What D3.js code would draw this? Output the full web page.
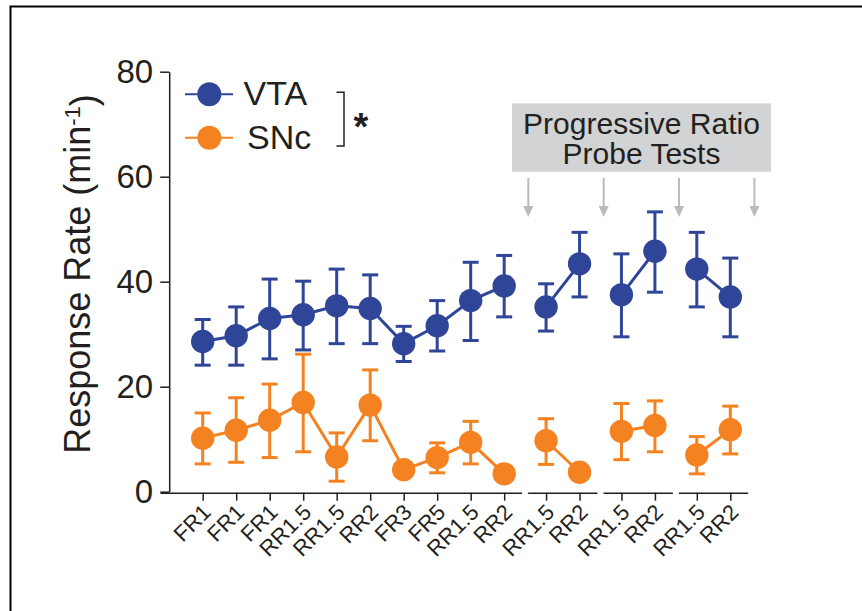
<!DOCTYPE html>
<html>
<head>
<meta charset="utf-8">
<script src="https://cdn.jsdelivr.net/npm/d3@7"></script>
<style>
  body { margin: 0; background: #fff; }
  svg { display: block; font-family: "Liberation Sans", Arial, Helvetica, sans-serif; }
</style>
</head>
<body>
<div id="chart"></div>
<script>
// session labels and which test block each belongs to
const sessions = ['FR1', 'FR1', 'FR1', 'RR1.5', 'RR1.5', 'RR2', 'FR3', 'FR5', 'RR1.5', 'RR2',
  'RR1.5', 'RR2', 'RR1.5', 'RR2', 'RR1.5', 'RR2'];
const block = [0, 0, 0, 0, 0, 0, 0, 0, 0, 0, 1, 1, 2, 2, 3, 3];

// response rate (min^-1), mean with upper / lower error bar ends
const vtaMean = [28.6, 29.7, 33.0, 33.7, 35.4, 34.9, 28.2, 31.6, 36.4, 39.2, 35.2, 43.4, 37.5, 45.8, 42.4, 37.1];
const vtaHigh = [32.8, 35.2, 40.5, 40.1, 42.4, 41.3, 31.5, 36.4, 43.7, 45.0, 39.6, 49.4, 45.3, 53.3, 49.4, 44.5];
const vtaLow = [24.1, 24.1, 25.3, 27.0, 28.2, 28.2, 24.8, 26.8, 28.8, 33.3, 30.6, 37.1, 29.5, 38.0, 35.2, 29.5];

const sncMean = [10.2, 11.7, 13.6, 17.0, 6.6, 16.5, 4.2, 6.5, 9.4, 3.4, 9.7, 3.7, 11.5, 12.6, 7.0, 11.8];
const sncHigh = [15.0, 17.9, 20.5, 26.2, 11.2, 23.2, 5.0, 9.3, 13.4, 4.2, 13.9, 4.5, 16.8, 17.3, 10.5, 16.3];
const sncLow = [5.3, 5.6, 6.5, 7.6, 2.0, 9.7, 3.4, 3.6, 5.3, 2.6, 5.2, 2.9, 6.1, 7.6, 3.4, 7.2];

const yTicks = [0, 20, 40, 60, 80];

const blue = '#2e4598';
const orange = '#f58220';
const ink = '#231f20';

const width = 862, height = 611;
const svg = d3.select('#chart').append('svg')
  .attr('width', width)
  .attr('height', height);

// outer frame
svg.append('rect')
  .attr('x', 10.5).attr('y', 6.5)
  .attr('width', 900).attr('height', 700)
  .attr('fill', 'none').attr('stroke', '#000').attr('stroke-width', 2);

const blockGap = 0.25;
const pos = i => i + block[i] * blockGap;

const x = d3.scaleLinear().domain([0, pos(15)]).range([202.7, 730.3]);
const y = d3.scaleLinear().domain([0, 80]).range([491.7, 71.7]);

// y axis
const yAxis = svg.append('g')
  .attr('transform', `translate(${x(-1)},0)`)
  .call(d3.axisLeft(y).tickValues(yTicks).tickSize(9).tickSizeOuter(0).tickPadding(7));
yAxis.select('.domain').attr('stroke', ink).attr('stroke-width', 1.5);
yAxis.selectAll('.tick line').attr('stroke', ink).attr('stroke-width', 1.5);
yAxis.selectAll('.tick text')
  .attr('fill', ink)
  .style('font-size', '33px')
  .style('font-family', '"Liberation Sans", Arial, sans-serif');

// y axis title with superscript
const yTitle = svg.append('text')
  .attr('transform', 'translate(90,274) rotate(-90)')
  .attr('text-anchor', 'middle')
  .attr('fill', ink)
  .style('font-size', '36px');
yTitle.append('tspan').text('Response Rate (min');
yTitle.append('tspan').attr('dy', '-0.45em').style('font-size', '22px').text('-1');
yTitle.append('tspan').attr('dy', '0.45em').text(')');

// x axis, one segment per block
d3.range(4).forEach(b => {
  const idx = d3.range(sessions.length).filter(i => block[i] === b);
  const first = pos(idx[0]), last = pos(idx[idx.length - 1]);
  const lo = b === 0 ? -1.27 : first - 0.55;
  const hi = last + 0.52;
  const seg = d3.scaleLinear().domain([lo, hi]).range([x(lo), x(hi)]);
  const g = svg.append('g')
    .attr('transform', `translate(0,${y(0) + 1})`)
    .call(d3.axisBottom(seg)
      .tickValues(idx.map(pos))
      .tickFormat((d, k) => sessions[idx[k]])
      .tickSize(8)
      .tickSizeOuter(0));
  g.select('.domain').attr('stroke', ink).attr('stroke-width', 1.5);
  g.selectAll('.tick line').attr('stroke', ink).attr('stroke-width', 1.5);
  g.selectAll('.tick text')
    .attr('x', 0).attr('y', 0).attr('dy', 0)
    .attr('transform', 'translate(9,21) rotate(-45)')
    .style('text-anchor', 'end')
    .style('font-size', '22px')
    .style('font-family', '"Liberation Sans", Arial, sans-serif')
    .attr('fill', ink);
});

// progressive ratio probe annotation
svg.append('rect')
  .attr('x', 512).attr('y', 103.3)
  .attr('width', 259).attr('height', 68.4)
  .attr('fill', '#d1d3d4');
svg.append('text')
  .attr('x', 641.5).attr('y', 133.5)
  .attr('text-anchor', 'middle').attr('fill', ink)
  .style('font-size', '30px')
  .text('Progressive Ratio');
svg.append('text')
  .attr('x', 641.5).attr('y', 164)
  .attr('text-anchor', 'middle').attr('fill', ink)
  .style('font-size', '30px')
  .text('Probe Tests');

const arrowGrey = '#b9bbbd';
d3.range(4).forEach(b => {
  const idx = d3.range(sessions.length).filter(i => block[i] === b);
  const ax = x(pos(idx[idx.length - 1]) + 0.72);
  svg.append('line')
    .attr('x1', ax).attr('x2', ax)
    .attr('y1', 178).attr('y2', 208)
    .attr('stroke', arrowGrey).attr('stroke-width', 2);
  svg.append('path')
    .attr('d', `M${ax - 5},206L${ax + 5},206L${ax},217Z`)
    .attr('fill', arrowGrey);
});

// data series
const series = [
  { name: 'VTA', color: blue, mean: vtaMean, high: vtaHigh, low: vtaLow },
  { name: 'SNc', color: orange, mean: sncMean, high: sncHigh, low: sncLow }
];

series.forEach(s => {
  const g = svg.append('g');
  // connecting lines within each block
  d3.range(4).forEach(b => {
    const idx = d3.range(sessions.length).filter(i => block[i] === b);
    g.append('path')
      .datum(idx)
      .attr('d', d3.line().x(i => x(pos(i))).y(i => y(s.mean[i])))
      .attr('fill', 'none')
      .attr('stroke', s.color)
      .attr('stroke-width', 3);
  });
  const pts = g.selectAll('.pt')
    .data(d3.range(sessions.length))
    .enter().append('g');
  pts.append('line')
    .attr('x1', i => x(pos(i))).attr('x2', i => x(pos(i)))
    .attr('y1', i => y(s.low[i])).attr('y2', i => y(s.high[i]))
    .attr('stroke', s.color).attr('stroke-width', 3);
  pts.append('line')
    .attr('x1', i => x(pos(i)) - 8).attr('x2', i => x(pos(i)) + 8)
    .attr('y1', i => y(s.high[i])).attr('y2', i => y(s.high[i]))
    .attr('stroke', s.color).attr('stroke-width', 3);
  pts.append('line')
    .attr('x1', i => x(pos(i)) - 8).attr('x2', i => x(pos(i)) + 8)
    .attr('y1', i => y(s.low[i])).attr('y2', i => y(s.low[i]))
    .attr('stroke', s.color).attr('stroke-width', 3);
  pts.append('circle')
    .attr('cx', i => x(pos(i)))
    .attr('cy', i => y(s.mean[i]))
    .attr('r', 11.7)
    .attr('fill', s.color);
});

// legend
const legend = svg.append('g');
series.forEach((s, k) => {
  const ly = 94.3 + k * 43.4;
  legend.append('line')
    .attr('x1', 185).attr('x2', 233)
    .attr('y1', ly).attr('y2', ly)
    .attr('stroke', s.color).attr('stroke-width', 2);
  legend.append('circle')
    .attr('cx', 209.3).attr('cy', ly).attr('r', 12)
    .attr('fill', s.color);
  legend.append('text')
    .attr('x', k === 0 ? 243.5 : 247)
    .attr('y', ly + 11)
    .attr('fill', ink)
    .style('font-size', '34px')
    .text(s.name);
});

// significance bracket
legend.append('path')
  .attr('d', 'M336.5,92.3H344V146H336.5')
  .attr('fill', 'none')
  .attr('stroke', ink)
  .attr('stroke-width', 1.5);
legend.append('text')
  .attr('x', 353.5).attr('y', 140)
  .attr('fill', ink)
  .style('font-size', '38px')
  .style('font-weight', 'bold')
  .text('*');
</script>
</body>
</html>
